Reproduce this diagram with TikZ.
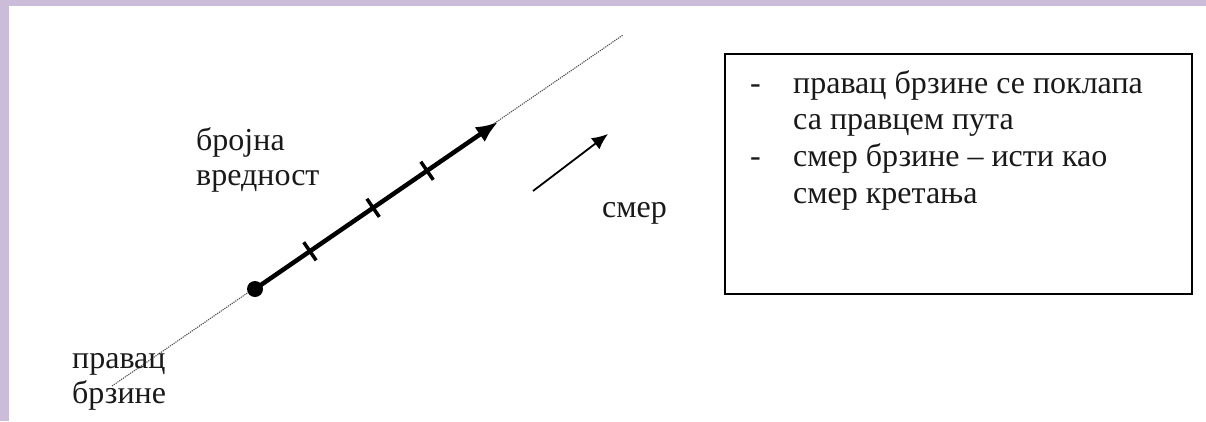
\documentclass[tikz,border=0pt]{standalone}
\usepackage{fontspec}
\setmainfont{Liberation Serif}
\usetikzlibrary{arrows.meta,calc}
\definecolor{lav}{RGB}{203,189,217}
\definecolor{dotgray}{RGB}{80,80,80}
\definecolor{ink}{RGB}{25,25,25}
\begin{document}
\begin{tikzpicture}[x=1pt,y=-1pt,
  lbl/.style={inner sep=0pt, anchor=base west, text=ink, font=\fontsize{32}{35}\selectfont},
  guide/.style={dotgray, line width=1.1pt, dash pattern=on 1.2pt off 1pt},
  vec/.style={line width=4.5pt, -{Latex[length=22pt,width=18pt]}},
  tickmark/.style={line width=3.5pt},
  small/.style={line width=1.8pt, -{Latex[length=16pt,width=14pt]}}]
\useasboundingbox (0,0) rectangle (1206,421);
\fill[lav] (0,0) rectangle (1206,6);
\fill[lav] (0,0) rectangle (9,421);

% guide line (direction of velocity)
\coordinate (low) at (112,386);
\coordinate (high) at (623,35);
\draw[guide] (low) -- (high);

% velocity vector
\node[circle, fill=black, inner sep=0pt, minimum size=16pt] (dot) at (255,289) {};
\coordinate (tip) at (498,122);
\draw[vec] (dot.center) -- (tip);
\foreach \f/\n in {0.226/t1,0.486/t2,0.708/t3}{
  \coordinate (\n) at ($(dot.center)!\f!(tip)$);
  \draw[tickmark] ($(\n)!11pt!90:(tip)$) -- ($(\n)!11pt!-90:(tip)$);
}

% direction arrow
\coordinate (sa) at (533,191);
\coordinate (sb) at (608,134);
\draw[small] (sa) -- (sb);

% labels
\node[lbl] (broj) at (196,150) {\begin{tabular}[t]{@{}l@{}}бројна\\вредност\end{tabular}};
\node[lbl] (smer) at (602,217) {смер};
\node[lbl] (prav) at (72,368) {\begin{tabular}[t]{@{}l@{}}правац\\брзине\end{tabular}};

% box
\node[draw, line width=1.6pt, inner sep=0pt, minimum width=467pt, minimum height=240pt, anchor=north west] (box) at (724,53) {};
\node[inner sep=0pt, anchor=base west, text=ink, font=\fontsize{32}{36.7}\selectfont] (boxtext) at (750,93)
  {\begin{tabular}[t]{@{}p{43pt}@{}l@{}}
   - & правац брзине се поклапа\\
     & са правцем пута\\
   - & смер брзине – исти као\\
     & смер кретања
   \end{tabular}};
\end{tikzpicture}
\end{document}
